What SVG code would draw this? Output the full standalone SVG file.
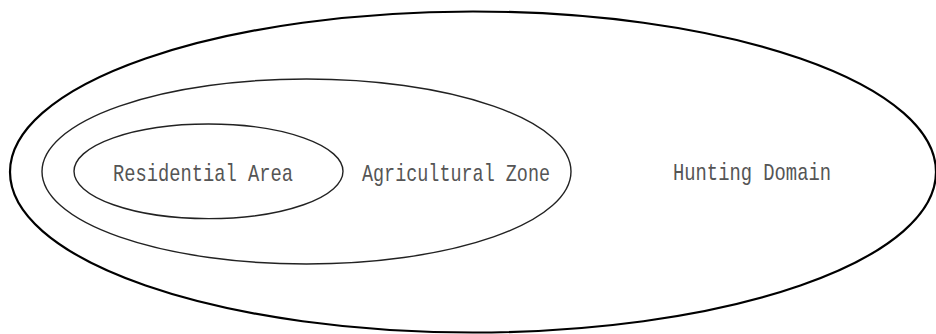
<svg xmlns="http://www.w3.org/2000/svg" width="936" height="334" viewBox="0 0 936 334">
  <style>
    .zone { fill: none; stroke: #000; }
    .outer { stroke-width: 2.2; }
    .inner { stroke-width: 1.4; stroke: #222; }
    .label { font-family: "Liberation Mono", "DejaVu Sans Mono", monospace; font-size: 24px; fill: #555; }
  </style>
  <rect width="936" height="334" fill="#fff"/>
  <g id="hunting-domain">
    <ellipse class="zone outer" cx="473" cy="172" rx="463" ry="160.5"/>
    <text class="label" x="673" y="180" textLength="158" lengthAdjust="spacingAndGlyphs">Hunting Domain</text>
  </g>
  <g id="agricultural-zone">
    <ellipse class="zone inner" cx="306.5" cy="171.5" rx="264.5" ry="92.5"/>
    <text class="label" x="362" y="181" textLength="188" lengthAdjust="spacingAndGlyphs">Agricultural Zone</text>
  </g>
  <g id="residential-area">
    <ellipse class="zone inner" cx="208.5" cy="171.3" rx="134.5" ry="47.3"/>
    <text class="label" x="113" y="181" textLength="180" lengthAdjust="spacingAndGlyphs">Residential Area</text>
  </g>
  <g id="connectors"/>
</svg>
